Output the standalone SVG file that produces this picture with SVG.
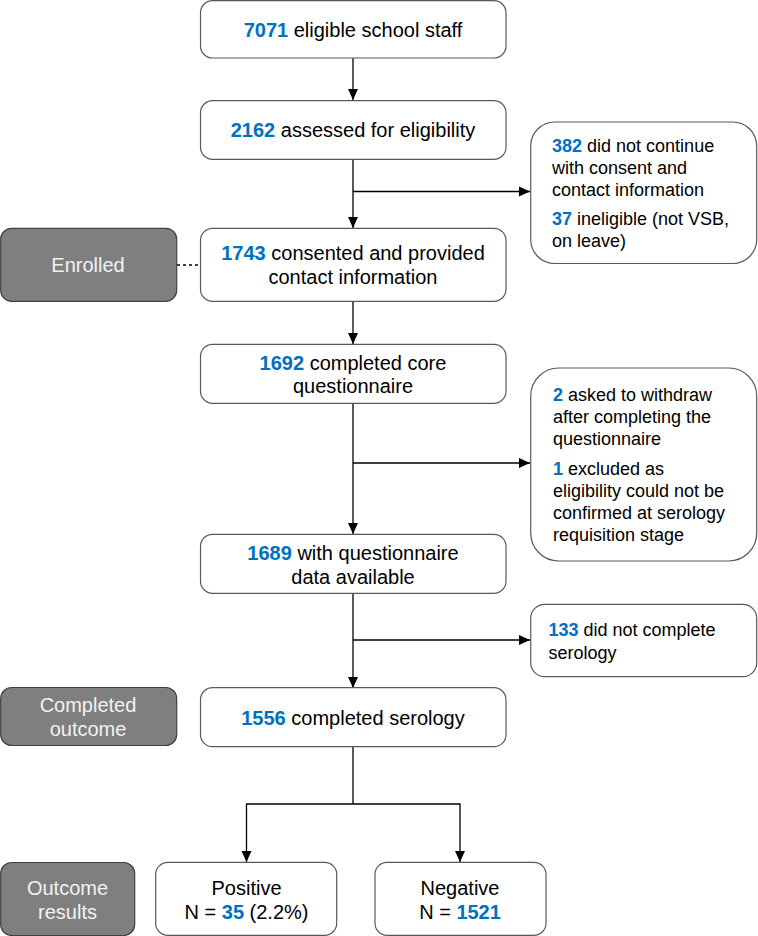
<svg xmlns="http://www.w3.org/2000/svg" width="758" height="936" viewBox="0 0 758 936">
<defs>
<marker id="ah" markerUnits="userSpaceOnUse" markerWidth="12" markerHeight="12" viewBox="0 0 12 12" refX="11" refY="6" orient="auto">
<path d="M0,1 L11,6 L0,11 Z" fill="#000"/>
</marker>
<style>
.box{fill:#fff;stroke:#595959;stroke-width:1.2}
.gbox{fill:#7f7f7f;stroke:#404040;stroke-width:1.2}
.t{font-family:"Liberation Sans",Arial,sans-serif;font-size:20px;fill:#000}
.m{text-anchor:middle}
.s{font-family:"Liberation Sans",Arial,sans-serif;font-size:18px;fill:#000}
.g{font-family:"Liberation Sans",Arial,sans-serif;font-size:20px;fill:#f2f2f2;text-anchor:middle}
.n{fill:#0070c0;font-weight:bold}
.c{fill:none;stroke:#000;stroke-width:1.3}
.a{marker-end:url(#ah)}
</style>
</defs>
<g id="connectors">
<line class="c a" x1="353" y1="58" x2="353" y2="100"/>
<line class="c a" x1="353" y1="159" x2="353" y2="228"/>
<line class="c a" x1="353" y1="191.5" x2="530" y2="191.5"/>
<line class="c" x1="177" y1="265" x2="200" y2="265" stroke-dasharray="3,3"/>
<line class="c a" x1="353" y1="301" x2="353" y2="344"/>
<line class="c a" x1="353" y1="403" x2="353" y2="534"/>
<line class="c a" x1="353" y1="463" x2="530" y2="463"/>
<line class="c a" x1="353" y1="593" x2="353" y2="688"/>
<line class="c a" x1="353" y1="640" x2="530" y2="640"/>
<polyline class="c" points="353,747 353,804"/>
<polyline class="c a" points="353,804 246.5,804 246.5,862"/>
<polyline class="c a" points="353,804 460,804 460,862"/>
</g>
<g id="n1">
<rect class="box" x="200.5" y="0.7" width="305.5" height="57.3" rx="12"/>
<text class="t m" x="353" y="37"><tspan class="n">7071</tspan> eligible school staff</text>
</g>
<g id="n2">
<rect class="box" x="200.5" y="100.7" width="305.5" height="58.6" rx="12"/>
<text class="t m" x="353" y="137"><tspan class="n">2162</tspan> assessed for eligibility</text>
</g>
<g id="x1">
<rect class="box" x="530.7" y="122" width="226" height="141.5" rx="24"/>
<text class="s" x="552" y="152"><tspan class="n">382</tspan> did not continue</text>
<text class="s" x="552" y="173.5">with consent and</text>
<text class="s" x="552" y="195.5">contact information</text>
<text class="s" x="552" y="225"><tspan class="n">37</tspan> ineligible (not VSB,</text>
<text class="s" x="552" y="247">on leave)</text>
</g>
<g id="enrolled">
<rect class="gbox" x="0.7" y="228.3" width="176" height="73" rx="11"/>
<text class="g" x="88" y="272">Enrolled</text>
</g>
<g id="n3">
<rect class="box" x="200.5" y="228.3" width="305.5" height="73" rx="12"/>
<text class="t m" x="353" y="259.5"><tspan class="n">1743</tspan> consented and provided</text>
<text class="t m" x="353" y="283.5">contact information</text>
</g>
<g id="n4">
<rect class="box" x="200.5" y="344.3" width="305.5" height="59" rx="12"/>
<text class="t m" x="353" y="369.5"><tspan class="n">1692</tspan> completed core</text>
<text class="t m" x="353" y="393">questionnaire</text>
</g>
<g id="x2">
<rect class="box" x="530.7" y="368" width="226" height="193" rx="28"/>
<text class="s" x="553" y="401"><tspan class="n">2</tspan> asked to withdraw</text>
<text class="s" x="553" y="423">after completing the</text>
<text class="s" x="553" y="444.5">questionnaire</text>
<text class="s" x="553" y="475"><tspan class="n">1</tspan> excluded as</text>
<text class="s" x="553" y="497">eligibility could not be</text>
<text class="s" x="553" y="518.5">confirmed at serology</text>
<text class="s" x="553" y="540.5">requisition stage</text>
</g>
<g id="n5">
<rect class="box" x="200.5" y="534.3" width="305.5" height="59" rx="12"/>
<text class="t m" x="353" y="559.5"><tspan class="n">1689</tspan> with questionnaire</text>
<text class="t m" x="353" y="583.5">data available</text>
</g>
<g id="x3">
<rect class="box" x="530.7" y="604.3" width="226" height="72.4" rx="14"/>
<text class="s" x="548.5" y="636"><tspan class="n">133</tspan> did not complete</text>
<text class="s" x="548.5" y="658.5">serology</text>
</g>
<g id="completed">
<rect class="gbox" x="0.7" y="687.5" width="176" height="58" rx="11"/>
<text class="g" x="88" y="712">Completed</text>
<text class="g" x="88" y="736">outcome</text>
</g>
<g id="n6">
<rect class="box" x="200.5" y="687.7" width="305.5" height="59" rx="12"/>
<text class="t m" x="353" y="725"><tspan class="n">1556</tspan> completed serology</text>
</g>
<g id="results">
<rect class="gbox" x="0.7" y="862.5" width="134" height="73" rx="11"/>
<text class="g" x="67.5" y="895">Outcome</text>
<text class="g" x="67.5" y="918.5">results</text>
</g>
<g id="pos">
<rect class="box" x="155.7" y="862.3" width="181" height="73" rx="12"/>
<text class="t m" x="246.5" y="895">Positive</text>
<text class="t m" x="246.5" y="918.5">N = <tspan class="n">35</tspan> (2.2%)</text>
</g>
<g id="neg">
<rect class="box" x="375" y="862.3" width="171" height="73" rx="12"/>
<text class="t m" x="460" y="895">Negative</text>
<text class="t m" x="460" y="918.5">N = <tspan class="n">1521</tspan></text>
</g>
</svg>
